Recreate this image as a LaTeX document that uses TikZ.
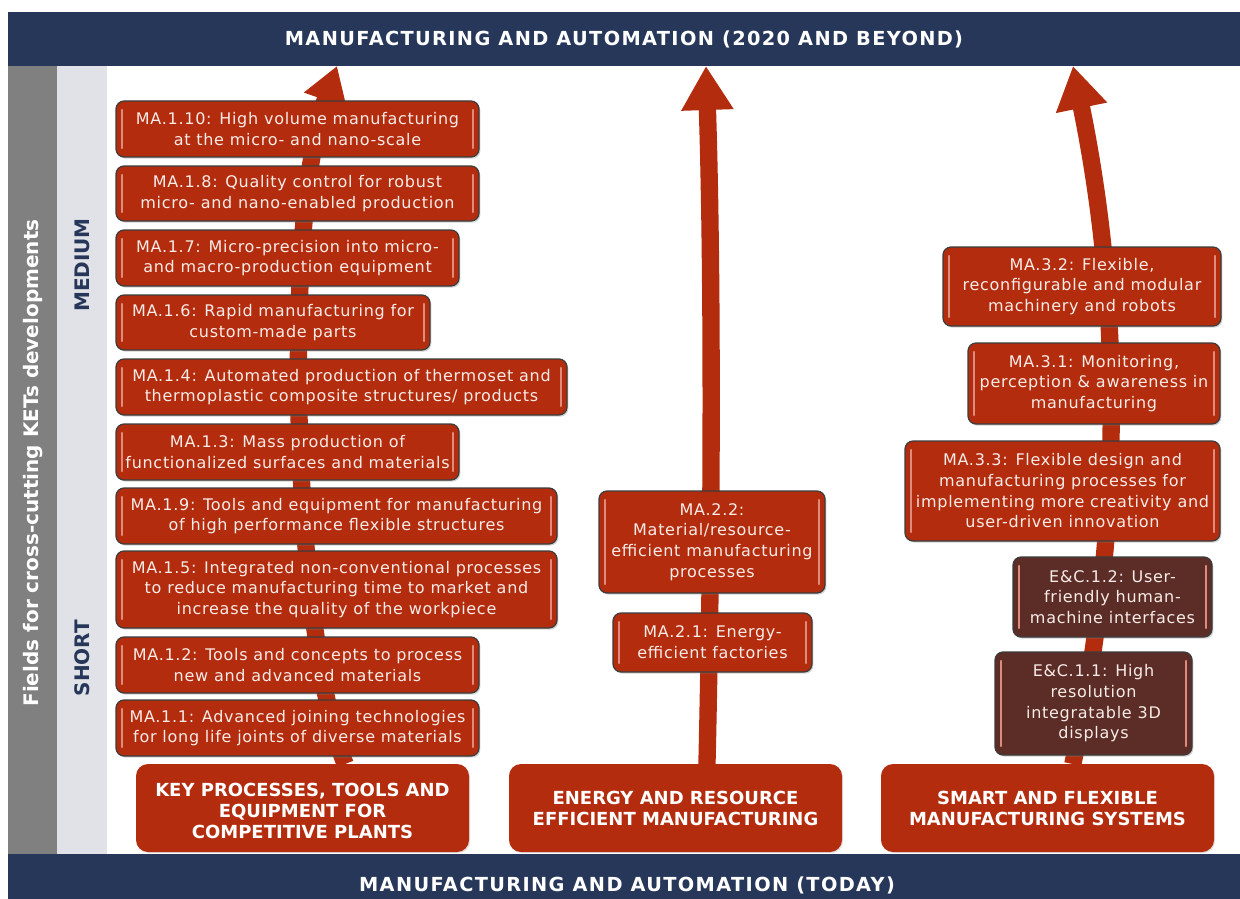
\documentclass[tikz,border=0pt]{standalone}
\usepackage{fontspec}
\setmainfont{DejaVu Sans}
\usetikzlibrary{arrows.meta,shadows}
\definecolor{boxred}{RGB}{180,44,14}
\definecolor{boxbrown}{RGB}{92,44,38}
\definecolor{navy}{RGB}{38,55,90}
\definecolor{colgray}{RGB}{128,128,128}
\definecolor{collight}{RGB}{224,226,231}
\definecolor{boxline}{RGB}{60,60,60}
\definecolor{hilite}{RGB}{222,140,125}
\definecolor{boxtext}{RGB}{248,236,232}
\tikzset{
  itembox/.style={rounded corners=6pt, draw=boxline, line width=0.9pt, fill=boxred,
    text=boxtext, align=center, inner sep=0pt,
    font=\fontsize{12}{15.5}\selectfont\addfontfeature{LetterSpace=4.5},
    drop shadow={shadow xshift=1pt,shadow yshift=-1.2pt,opacity=0.35}},
  ecbox/.style={itembox, fill=boxbrown},
  keybox/.style={rounded corners=9pt, fill=boxred, text=white, align=center, inner sep=0pt,
    font=\bfseries\fontsize{13.5}{15.75}\selectfont,
    drop shadow={shadow xshift=0.8pt,shadow yshift=-0.8pt,opacity=0.25}},
  keytext/.style={text=white, align=center, inner sep=0pt, font=\bfseries\fontsize{13.5}{15.75}\selectfont},
  banner/.style={fill=navy, text=white, inner sep=0pt,
    font=\bfseries\fontsize{14.5}{17}\selectfont\addfontfeature{LetterSpace=7}},
  bannertext/.style={text=white, inner sep=0pt,
    font=\bfseries\fontsize{14.5}{17}\selectfont\addfontfeature{LetterSpace=7}},
  hl/.style={draw=hilite, line width=1.2pt, line cap=round},
  road/.style={draw=boxred, line width=13pt},
}
\newcommand\placebox[7]{\node[#2, minimum width={(#5-#3)*0.75pt}, minimum height={(#6-#4)*0.75pt}] (#1) at ({(#3+#5)/2},{(#4+#6)/2}) {#7};}
\begin{document}
\begin{tikzpicture}[x=0.75pt,y=-0.75pt]
\useasboundingbox (0,0) rectangle (1240,899);
\fill[white] (0,0) rectangle (1240,899);
% side columns
\fill[colgray] (8,66) rectangle (57,854);
\fill[collight] (57,66) rectangle (107,854);
\node[rotate=90, text=white, font=\bfseries\fontsize{15}{18}\selectfont] (fields) at (33,463) {Fields for cross-cutting KETs developments};
\node[rotate=90, text=navy, font=\bfseries\fontsize{15}{18}\selectfont] (medium) at (82,265) {MEDIUM};
\node[rotate=90, text=navy, font=\bfseries\fontsize{15}{18}\selectfont] (short) at (82,658) {SHORT};
% banners
\placebox{top}{banner}{8}{12}{1240}{66}{MANUFACTURING AND AUTOMATION (2020 AND BEYOND)}
\placebox{bottom}{banner}{8}{854}{1240}{899}{}
\node[bannertext] (bottomtext) at (627,885) {MANUFACTURING AND AUTOMATION (TODAY)};
% arrow ends
\coordinate (t1) at (337,66);
\coordinate (t2) at (706,66);
\coordinate (t3) at (1073,66);
\path (302.5,764) coordinate (k1n) (675.5,764) coordinate (k2n) (1047.5,764) coordinate (k3n);
% arrows
\draw[road, -{Triangle[width=32pt,length=27pt]}] ([xshift=32pt]k1n) .. controls (295,640) and (280,230) .. (t1);
\draw[road, -{Triangle[width=37pt,length=33pt]}] ([xshift=23.6pt]k2n) .. controls (713,500) and (712,250) .. (t2);
\draw[road, -{Triangle[width=37pt,length=32pt]}] ([xshift=19pt]k3n) .. controls (1120,540) and (1125,320) .. (t3);
% left column
\placebox{a10}{itembox}{116}{101}{479}{157}{MA.1.10: High volume manufacturing\\at the micro- and nano-scale}
\placebox{a8}{itembox}{116}{166}{479}{221}{MA.1.8: Quality control for robust\\micro- and nano-enabled production}
\placebox{a7}{itembox}{116}{230}{459}{286}{MA.1.7: Micro-precision into micro-\\and macro-production equipment}
\placebox{a6}{itembox}{116}{295}{430}{350}{MA.1.6: Rapid manufacturing for\\custom-made parts}
\placebox{a4}{itembox}{116}{359}{567}{415}{MA.1.4: Automated production of thermoset and\\thermoplastic composite structures/ products}
\placebox{a3}{itembox}{116}{424}{459}{480}{MA.1.3: Mass production of\\functionalized surfaces and materials}
\placebox{a9}{itembox}{116}{488}{557}{544}{MA.1.9: Tools and equipment for manufacturing\\of high performance flexible structures}
\placebox{a5}{itembox}{116}{551}{557}{628}{MA.1.5: Integrated non-conventional processes\\to reduce manufacturing time to market and\\increase the quality of the workpiece}
\placebox{a2}{itembox}{116}{637}{479}{693}{MA.1.2: Tools and concepts to process\\new and advanced materials}
\placebox{a1}{itembox}{116}{700}{479}{756}{MA.1.1: Advanced joining technologies\\for long life joints of diverse materials}
\placebox{k1}{keybox}{136}{764}{469}{852}{}
\node[keytext] (k1text) at (302.5,811) {KEY PROCESSES, TOOLS AND\\EQUIPMENT FOR\\COMPETITIVE PLANTS};
% middle column
\placebox{b2}{itembox}{599}{491}{825}{593}{MA.2.2:\\Material/resource-\\efficient manufacturing\\processes}
\placebox{b1}{itembox}{613}{613}{812}{672}{MA.2.1: Energy-\\efficient factories}
\placebox{k2}{keybox}{509}{764}{842}{852}{ENERGY AND RESOURCE\\EFFICIENT MANUFACTURING}
% right column
\placebox{c2}{itembox}{943}{247}{1221}{326}{MA.3.2: Flexible,\\reconfigurable and modular\\machinery and robots}
\placebox{c1}{itembox}{968}{343}{1220}{424}{MA.3.1: Monitoring,\\perception \& awareness in\\manufacturing}
\placebox{c3}{itembox}{905}{441}{1220}{541}{MA.3.3: Flexible design and\\manufacturing processes for\\implementing more creativity and\\user-driven innovation}
\placebox{e2}{ecbox}{1013}{557}{1212}{637}{E\&C.1.2: User-\\friendly human-\\machine interfaces}
\placebox{e1}{ecbox}{995}{652}{1192}{755}{E\&C.1.1: High\\resolution\\integratable 3D\\displays}
\placebox{k3}{keybox}{881}{764}{1214}{852}{SMART AND FLEXIBLE\\MANUFACTURING SYSTEMS}
% highlight bevels
\foreach \n in {a10,a8,a7,a6,a4,a3,a9,a5,a2,a1,b2,b1,c2,c1,c3,e2,e1}{
  \draw[hl] ([xshift=5pt,yshift=-7pt]\n.north west) -- ([xshift=5pt,yshift=7pt]\n.south west);
  \draw[hl] ([xshift=-5pt,yshift=-7pt]\n.north east) -- ([xshift=-5pt,yshift=7pt]\n.south east);
}
\end{tikzpicture}
\end{document}
